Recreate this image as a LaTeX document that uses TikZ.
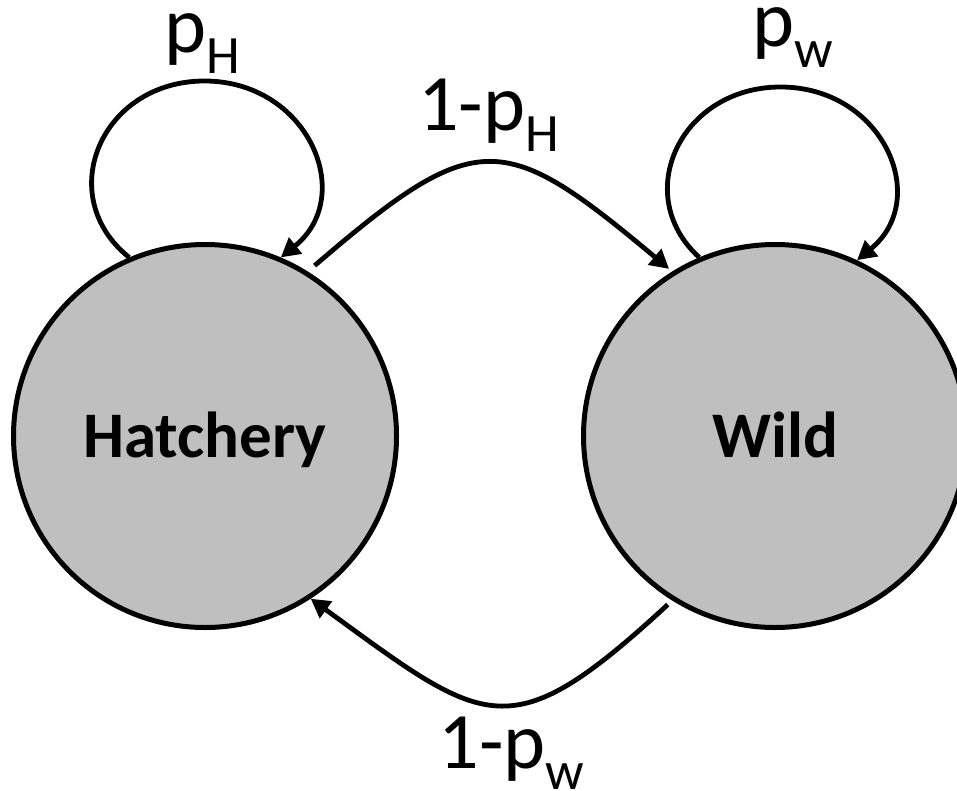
\documentclass[tikz,border=0pt]{standalone}
\usepackage{fontspec}
\setmainfont{Carlito}
\usetikzlibrary{arrows.meta}
\definecolor{stategray}{RGB}{191,191,191}
% lowered subscript in a smaller size
\newcommand{\lowsub}[1]{\raisebox{-21pt}{\fontsize{54pt}{60pt}\selectfont #1}}

\begin{document}
\begin{tikzpicture}[x=1pt,y=-1pt,
  state/.style={circle, draw=black, line width=5pt, fill=stategray,
    minimum size=383pt, inner sep=0pt,
    font=\fontsize{65pt}{70pt}\selectfont\bfseries,
    text height=42pt, text depth=0pt},
  prob/.style={font=\fontsize{80pt}{90pt}\selectfont, inner sep=0pt, anchor=base},
  trans/.style={line width=4.8pt, -{Triangle[length=19pt,width=20pt]}}
]
\useasboundingbox (0,0) rectangle (957,790);
\clip (0,0) rectangle (957,790);

% the two states
\node[state] (h) at (205,436) {Hatchery};
\node[state] (w) at (775,436) {Wild};

% staying in the same state: near-elliptic loops, two cubic pieces each
\draw[trans] (h.113) .. controls (52.4,196) and (101,81) .. (204.5,81)
                    .. controls (308,81) and (357,196) .. (h.67);
\draw[trans] (w.113) .. controls (630.1,194.4) and (680.9,87) .. (780.5,87)
                    .. controls (882.9,87) and (931.7,199) .. (w.65);

% moving between states
\draw[trans, shorten <=9pt, shorten >=4pt]
  (h.58) .. controls (477,126) and (503,130) .. (w.122.5);
\draw[trans, shorten <=6pt]
  (w.238) .. controls (509,751) and (487,727) .. (h.303);

% transition probabilities
\node[prob] (lph) at (202.5,52) {p\lowsub{H}};
\node[prob] (lpw) at (792.5,46) {p\lowsub{w}};
\node[prob] (lhw) at (488.5,130) {1-p\lowsub{H}};
\node[prob] (lwh) at (511.5,768) {1-p\lowsub{w}};
\end{tikzpicture}
\end{document}
